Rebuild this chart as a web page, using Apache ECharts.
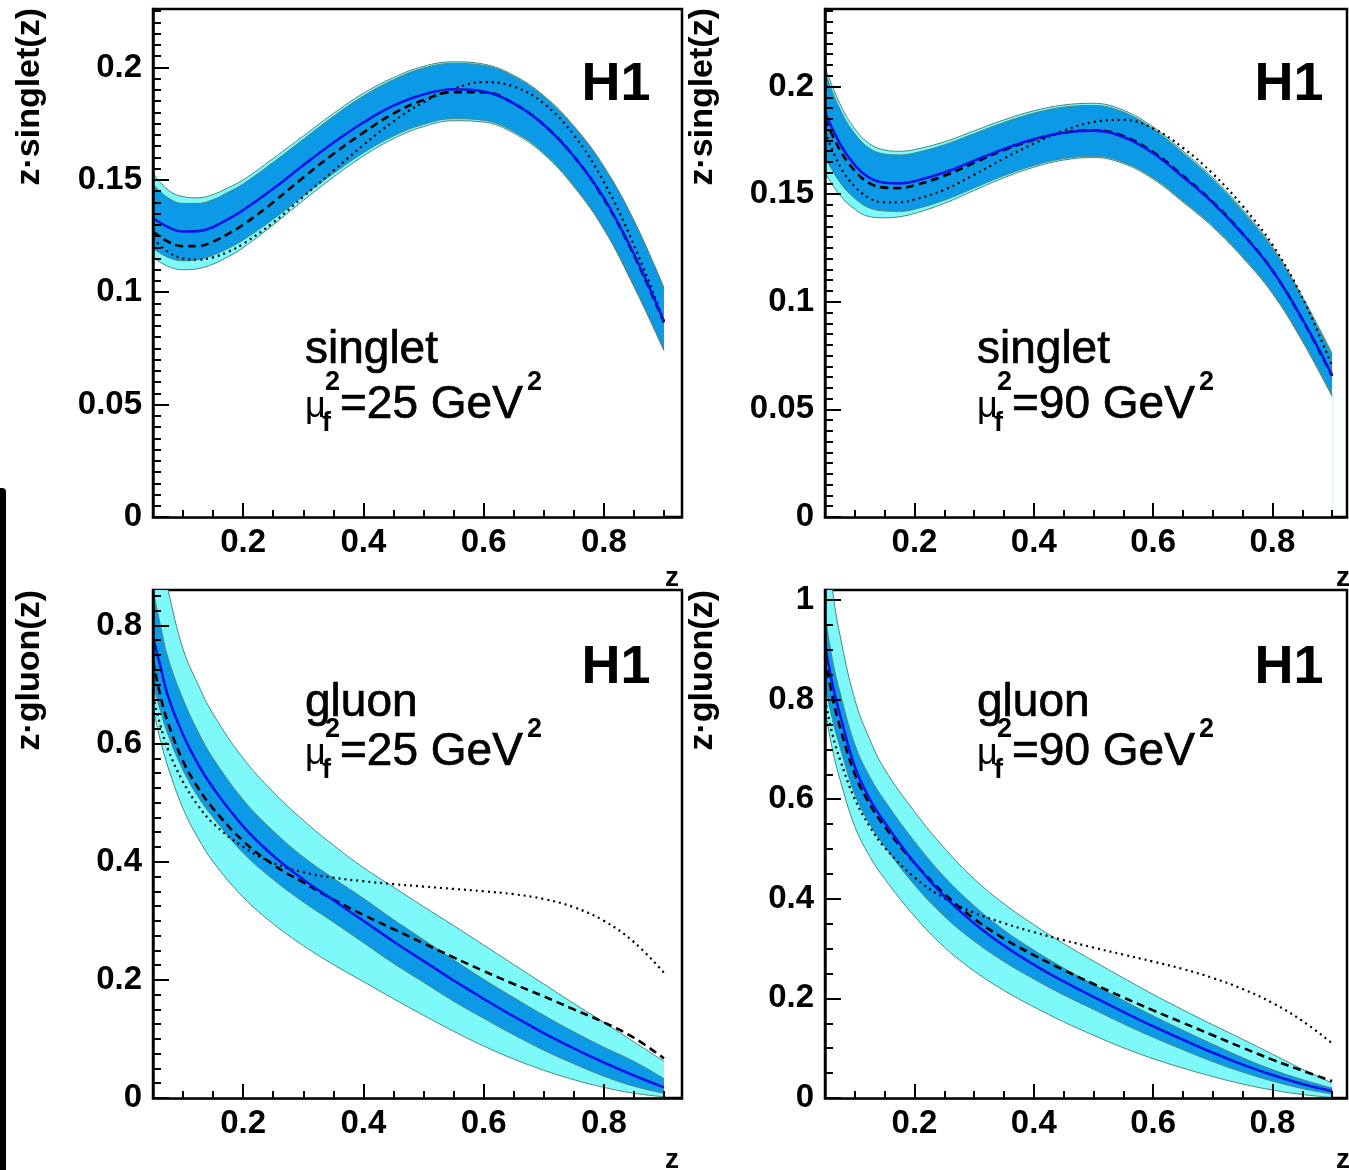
<!DOCTYPE html>
<html>
<head>
<meta charset="utf-8">
<script src="https://cdn.jsdelivr.net/npm/echarts@6/dist/echarts.min.js"></script>
<style>
  html, body { margin: 0; padding: 0; background: #ffffff; }
  #chart { width: 1349px; height: 1170px; }
</style>
</head>
<body>
<div id="chart"></div>
<script>
// ---- sampling points in z ----
const zSinglet = [0.05, 0.075, 0.10, 0.125, 0.15, 0.175, 0.20, 0.25, 0.30, 0.35, 0.40, 0.45, 0.50, 0.55, 0.60, 0.65, 0.70, 0.75, 0.80, 0.85, 0.90];
const zGluon   = [0.05, 0.0625, 0.075, 0.10, 0.125, 0.15, 0.20, 0.25, 0.30, 0.35, 0.40, 0.45, 0.50, 0.55, 0.60, 0.65, 0.70, 0.75, 0.80, 0.85, 0.90];

// ---- singlet, mu_f^2 = 25 GeV^2 ----
const s25Central = [0.1330, 0.1290, 0.1270, 0.1272, 0.1290, 0.1325, 0.1365, 0.1460, 0.1565, 0.1665, 0.1755, 0.1830, 0.1880, 0.1903, 0.1893, 0.1840, 0.1745, 0.1605, 0.1420, 0.1170, 0.0870];
const s25Dashed  = [0.1270, 0.1225, 0.1205, 0.1205, 0.1225, 0.1260, 0.1300, 0.1400, 0.1510, 0.1615, 0.1710, 0.1795, 0.1855, 0.1890, 0.1890, 0.1840, 0.1745, 0.1605, 0.1415, 0.1165, 0.0865];
const s25Dotted  = [0.1240, 0.1180, 0.1150, 0.1145, 0.1155, 0.1180, 0.1215, 0.1310, 0.1425, 0.1540, 0.1655, 0.1760, 0.1845, 0.1905, 0.1935, 0.1915, 0.1840, 0.1700, 0.1490, 0.1210, 0.0870];
const s25OuterHi = [0.1530, 0.1455, 0.1425, 0.1420, 0.1435, 0.1465, 0.1500, 0.1595, 0.1695, 0.1795, 0.1885, 0.1955, 0.2005, 0.2025, 0.2015, 0.1965, 0.1875, 0.1740, 0.1560, 0.1320, 0.1020];
const s25InnerHi = [0.1480, 0.1420, 0.1395, 0.1395, 0.1412, 0.1445, 0.1482, 0.1578, 0.1680, 0.1782, 0.1873, 0.1945, 0.1997, 0.2018, 0.2009, 0.1960, 0.1870, 0.1736, 0.1556, 0.1316, 0.1016];
const s25InnerLo = [0.1195, 0.1155, 0.1140, 0.1145, 0.1165, 0.1195, 0.1232, 0.1325, 0.1428, 0.1528, 0.1620, 0.1695, 0.1747, 0.1772, 0.1765, 0.1715, 0.1620, 0.1475, 0.1285, 0.1030, 0.0745];
const s25OuterLo = [0.1155, 0.1115, 0.1100, 0.1105, 0.1125, 0.1158, 0.1198, 0.1300, 0.1408, 0.1512, 0.1606, 0.1683, 0.1737, 0.1763, 0.1757, 0.1708, 0.1614, 0.1470, 0.1280, 0.1025, 0.0740];

// ---- singlet, mu_f^2 = 90 GeV^2 ----
const s90Central = [0.1880, 0.1735, 0.1635, 0.1575, 0.1553, 0.1550, 0.1560, 0.1600, 0.1655, 0.1710, 0.1755, 0.1785, 0.1795, 0.1765, 0.1690, 0.1580, 0.1460, 0.1315, 0.1145, 0.0920, 0.0660];
const s90Dashed  = [0.1850, 0.1705, 0.1608, 0.1550, 0.1530, 0.1528, 0.1540, 0.1585, 0.1645, 0.1705, 0.1752, 0.1785, 0.1797, 0.1770, 0.1695, 0.1585, 0.1463, 0.1317, 0.1145, 0.0918, 0.0655];
const s90Dotted  = [0.1790, 0.1630, 0.1535, 0.1480, 0.1462, 0.1462, 0.1475, 0.1520, 0.1590, 0.1665, 0.1735, 0.1795, 0.1835, 0.1845, 0.1805, 0.1715, 0.1595, 0.1445, 0.1265, 0.1020, 0.0700];
const s90OuterHi = [0.2090, 0.1920, 0.1803, 0.1733, 0.1705, 0.1699, 0.1707, 0.1743, 0.1794, 0.1845, 0.1887, 0.1914, 0.1922, 0.1890, 0.1812, 0.1700, 0.1577, 0.1429, 0.1256, 0.1025, 0.0760];
const s90InnerHi = [0.2065, 0.1895, 0.1780, 0.1712, 0.1686, 0.1682, 0.1691, 0.1729, 0.1781, 0.1833, 0.1876, 0.1904, 0.1912, 0.1881, 0.1803, 0.1691, 0.1568, 0.1420, 0.1247, 0.1016, 0.0751];
const s90InnerLo = [0.1672, 0.1555, 0.1480, 0.1435, 0.1422, 0.1420, 0.1430, 0.1472, 0.1529, 0.1586, 0.1633, 0.1665, 0.1676, 0.1648, 0.1576, 0.1469, 0.1353, 0.1211, 0.1044, 0.0823, 0.0568];
const s90OuterLo = [0.1600, 0.1495, 0.1430, 0.1395, 0.1390, 0.1395, 0.1410, 0.1457, 0.1517, 0.1576, 0.1625, 0.1658, 0.1670, 0.1642, 0.1570, 0.1463, 0.1347, 0.1205, 0.1038, 0.0817, 0.0560];

// ---- gluon, mu_f^2 = 25 GeV^2 ----
const g25Central = [0.780, 0.730, 0.680, 0.615, 0.565, 0.525, 0.460, 0.410, 0.370, 0.335, 0.300, 0.265, 0.232, 0.199, 0.168, 0.138, 0.110, 0.084, 0.060, 0.038, 0.018];
const g25Dashed  = [0.740, 0.680, 0.635, 0.570, 0.525, 0.490, 0.435, 0.395, 0.365, 0.336, 0.310, 0.286, 0.262, 0.238, 0.215, 0.193, 0.172, 0.150, 0.128, 0.102, 0.067];
const g25Dotted  = [0.680, 0.630, 0.590, 0.535, 0.495, 0.465, 0.425, 0.398, 0.382, 0.373, 0.367, 0.362, 0.358, 0.354, 0.350, 0.345, 0.337, 0.323, 0.300, 0.264, 0.212];
const g25OuterHi = [1.000, 0.920, 0.860, 0.760, 0.700, 0.650, 0.575, 0.518, 0.470, 0.428, 0.390, 0.357, 0.324, 0.292, 0.259, 0.226, 0.193, 0.160, 0.128, 0.095, 0.062];
const g25InnerHi = [0.860, 0.800, 0.745, 0.675, 0.620, 0.575, 0.505, 0.452, 0.408, 0.372, 0.338, 0.302, 0.268, 0.234, 0.201, 0.170, 0.140, 0.112, 0.086, 0.062, 0.033];
const g25InnerLo = [0.700, 0.655, 0.615, 0.555, 0.510, 0.475, 0.415, 0.370, 0.332, 0.298, 0.263, 0.228, 0.196, 0.164, 0.135, 0.107, 0.081, 0.058, 0.037, 0.020, 0.008];
const g25OuterLo = [0.660, 0.605, 0.560, 0.490, 0.440, 0.400, 0.340, 0.295, 0.258, 0.226, 0.197, 0.168, 0.140, 0.113, 0.088, 0.066, 0.047, 0.031, 0.018, 0.008, 0.002];

// ---- gluon, mu_f^2 = 90 GeV^2 ----
const g90Central = [0.910, 0.830, 0.770, 0.665, 0.600, 0.553, 0.472, 0.405, 0.351, 0.306, 0.268, 0.234, 0.203, 0.173, 0.144, 0.117, 0.091, 0.067, 0.046, 0.028, 0.014];
const g90Dashed  = [0.885, 0.805, 0.745, 0.650, 0.590, 0.545, 0.472, 0.410, 0.360, 0.320, 0.287, 0.257, 0.229, 0.202, 0.176, 0.151, 0.126, 0.101, 0.077, 0.055, 0.034];
const g90Dotted  = [0.800, 0.730, 0.680, 0.600, 0.545, 0.503, 0.443, 0.401, 0.372, 0.351, 0.333, 0.317, 0.302, 0.288, 0.274, 0.259, 0.241, 0.219, 0.191, 0.155, 0.110];
const g90OuterHi = [1.150, 1.020, 0.930, 0.800, 0.720, 0.660, 0.575, 0.502, 0.440, 0.390, 0.348, 0.310, 0.275, 0.241, 0.208, 0.177, 0.147, 0.118, 0.088, 0.058, 0.030];
const g90InnerHi = [0.970, 0.880, 0.815, 0.710, 0.645, 0.597, 0.515, 0.444, 0.386, 0.337, 0.297, 0.261, 0.228, 0.196, 0.165, 0.136, 0.108, 0.081, 0.057, 0.037, 0.020];
const g90InnerLo = [0.830, 0.760, 0.705, 0.610, 0.550, 0.505, 0.428, 0.365, 0.315, 0.274, 0.239, 0.207, 0.178, 0.149, 0.122, 0.097, 0.073, 0.052, 0.034, 0.019, 0.008];
const g90OuterLo = [0.780, 0.700, 0.640, 0.545, 0.485, 0.440, 0.365, 0.303, 0.255, 0.216, 0.183, 0.153, 0.126, 0.101, 0.079, 0.060, 0.043, 0.028, 0.016, 0.007, 0.001];

// ---- tick labels ----
const zTickLabels = [0.2, 0.4, 0.6, 0.8];
const singletTickLabels = [0, 0.05, 0.1, 0.15, 0.2];
const gluon25TickLabels = [0, 0.2, 0.4, 0.6, 0.8];
const gluon90TickLabels = [0, 0.2, 0.4, 0.6, 0.8, 1];

// ---- colours ----
const OUTER_FILL = '#7df9f9';
const INNER_FILL = '#0c9ae6';
const EDGE = '#4c857f';
const CENTRAL = '#1414e6';
const FONT = '"Liberation Sans", Arial, Helvetica, sans-serif';

function steps(from, to, step) {
  const out = [];
  const n = Math.floor((to - from) / step + 1e-6);
  for (let i = 0; i <= n; i++) out.push(Math.round((from + i * step) * 10000) / 10000);
  return out;
}
function without(list, remove) {
  return list.filter(v => !remove.some(r => Math.abs(r - v) < 1e-9));
}

// panel geometry (pixels) and axis ranges
const panels = [
  { left: 153, top: 9,   width: 529, height: 508, xMax: 0.93,  yMax: 0.226, yMajor: singletTickLabels, yMinorStep: 0.005,
    z: zSinglet, c: s25Central, d: s25Dashed, p: s25Dotted, oh: s25OuterHi, ih: s25InnerHi, il: s25InnerLo, ol: s25OuterLo },
  { left: 825, top: 9,   width: 522, height: 508, xMax: 0.925, yMax: 0.236, yMajor: singletTickLabels, yMinorStep: 0.005,
    z: zSinglet, c: s90Central, d: s90Dashed, p: s90Dotted, oh: s90OuterHi, ih: s90InnerHi, il: s90InnerLo, ol: s90OuterLo },
  { left: 153, top: 590, width: 529, height: 508, xMax: 0.93,  yMax: 0.86,  yMajor: gluon25TickLabels, yMinorStep: 0.025,
    z: zGluon, c: g25Central, d: g25Dashed, p: g25Dotted, oh: g25OuterHi, ih: g25InnerHi, il: g25InnerLo, ol: g25OuterLo },
  { left: 825, top: 590, width: 522, height: 508, xMax: 0.925, yMax: 1.02,  yMajor: gluon90TickLabels, yMinorStep: 0.05,
    z: zGluon, c: g90Central, d: g90Dashed, p: g90Dotted, oh: g90OuterHi, ih: g90InnerHi, il: g90InnerLo, ol: g90OuterLo }
];

const grid = [], xAxis = [], yAxis = [], series = [];

panels.forEach((P, g) => {
  grid.push({ left: P.left, top: P.top, width: P.width, height: P.height, show: true,
    borderColor: '#000', borderWidth: 2.5, backgroundColor: 'transparent', outerBoundsMode: 'none' });

  const xMinor = without(steps(0.1, 0.9, 0.05), zTickLabels);
  const yMinor = without(steps(0, P.yMax, P.yMinorStep), P.yMajor);
  const lbl = { fontFamily: FONT, fontWeight: 'bold', fontSize: 33, color: '#000' };

  // main axes: line, long ticks, labels
  xAxis.push({ gridIndex: g, type: 'value', position: 'bottom', min: 0.05, max: P.xMax, z: 10, splitLine: { show: false },
    axisLine: { onZero: false, lineStyle: { color: '#000', width: 2.5 } },
    axisTick: { inside: true, length: 14, lineStyle: { color: '#000', width: 2 }, customValues: zTickLabels },
    axisLabel: Object.assign({ customValues: zTickLabels, margin: 9 }, lbl) });
  // companion axes: short minor ticks only
  xAxis.push({ gridIndex: g, type: 'value', position: 'bottom', min: 0.05, max: P.xMax, z: 10, splitLine: { show: false },
    axisLine: { show: false, onZero: false }, axisLabel: { show: false },
    axisTick: { inside: true, length: 7, lineStyle: { color: '#000', width: 2 }, customValues: xMinor } });

  yAxis.push({ gridIndex: g, type: 'value', position: 'left', min: 0, max: P.yMax, z: 10, splitLine: { show: false },
    axisLine: { onZero: false, lineStyle: { color: '#000', width: 2.5 } },
    axisTick: { inside: true, length: 16, lineStyle: { color: '#000', width: 2 }, customValues: P.yMajor },
    axisLabel: Object.assign({ customValues: P.yMajor, margin: 11 }, lbl) });
  yAxis.push({ gridIndex: g, type: 'value', position: 'left', min: 0, max: P.yMax, z: 10, splitLine: { show: false },
    axisLine: { show: false, onZero: false }, axisLabel: { show: false },
    axisTick: { inside: true, length: 8, lineStyle: { color: '#000', width: 2 }, customValues: yMinor } });

  const ax = { xAxisIndex: 2 * g, yAxisIndex: 2 * g, symbol: 'none', smooth: 0.4, silent: true, animation: false };
  const pts = arr => P.z.map((x, i) => [x, arr[i]]);
  const hidden = { width: 0, opacity: 0 };

  // bands: each edge is filled down to the axis, layered so that the
  // strips between neighbouring edges keep their own colour
  [[P.oh, OUTER_FILL], [P.ih, INNER_FILL], [P.il, OUTER_FILL], [P.ol, '#ffffff']].forEach(([edge, fill]) => {
    series.push(Object.assign({ type: 'line', data: pts(edge), lineStyle: hidden,
      areaStyle: { color: fill, opacity: 1 }, z: 2 }, ax));
  });
  // band outlines
  [P.oh, P.ol, P.ih, P.il].forEach(edge => {
    series.push(Object.assign({ type: 'line', data: pts(edge), lineStyle: { color: EDGE, width: 1 }, z: 3 }, ax));
  });
  // dotted, dashed and central curves
  series.push(Object.assign({ type: 'line', data: pts(P.p), lineStyle: { color: '#000', width: 2.2, type: [2, 4] }, z: 4 }, ax));
  series.push(Object.assign({ type: 'line', data: pts(P.d), lineStyle: { color: '#000', width: 2.6, type: [8, 5] }, z: 4 }, ax));
  series.push(Object.assign({ type: 'line', data: pts(P.c), lineStyle: { color: CENTRAL, width: 2.6 }, z: 5 }, ax));
});

// ---- text annotations ----
function txt(x, y, text, size, opts) {
  opts = opts || {};
  return Object.assign({ type: 'text', x: x, y: y, silent: true, z: 20,
    style: Object.assign({ text: text, fill: '#000', font: (opts.weight || 'bold') + ' ' + size + 'px ' + FONT,
      align: 'left', verticalAlign: 'middle' }, opts.style) }, opts.el);
}
function yTitle(x, y, text) {
  return txt(x, y, text, 34, { el: { rotation: Math.PI / 2 }, style: { align: 'right' } });
}
const thick = { stroke: '#000', lineWidth: 0.7 };
function label(x, yName, yMu, name, scale) {
  return [
    txt(x, yName, name, 46, { weight: 'normal', style: thick }),
    txt(x, yMu + 2, 'μ', 36, { weight: 'normal' }),
    txt(x + 17, yMu + 19, 'f', 27, { weight: 'bold' }),
    txt(x + 20, yMu - 22, '2', 27, { weight: 'bold' }),
    txt(x + 35, yMu, '=' + scale + ' GeV', 46, { weight: 'normal', style: thick }),
    txt(x + 222, yMu - 22, '2', 27, { weight: 'bold' })
  ];
}

const graphics = [
  // dark edge strip at the left margin
  { type: 'rect', shape: { x: 0, y: 488, width: 6, height: 700, r: [0, 4, 0, 0] }, style: { fill: '#000' }, silent: true },
  yTitle(30, 8, 'z·singlet(z)'),
  yTitle(703, 8, 'z·singlet(z)'),
  yTitle(30, 590, 'z·gluon(z)'),
  yTitle(703, 590, 'z·gluon(z)'),
  txt(672, 578, 'z', 28, { style: { align: 'center' } }),
  txt(1343, 578, 'z', 28, { style: { align: 'center' } }),
  txt(672, 1160, 'z', 28, { style: { align: 'center' } }),
  txt(1343, 1160, 'z', 28, { style: { align: 'center' } }),
  txt(616, 85, 'H1', 54, { style: { align: 'center' } }),
  txt(1289, 85, 'H1', 54, { style: { align: 'center' } }),
  txt(616, 668, 'H1', 54, { style: { align: 'center' } }),
  txt(1289, 668, 'H1', 54, { style: { align: 'center' } })
].concat(
  label(305, 350, 405, 'singlet', '25'),
  label(977, 350, 405, 'singlet', '90'),
  label(305, 703, 752, 'gluon', '25'),
  label(977, 703, 752, 'gluon', '90')
);

const chart = echarts.init(document.getElementById('chart'), null, { renderer: 'canvas' });
chart.setOption({
  animation: false,
  backgroundColor: '#ffffff',
  grid: grid,
  xAxis: xAxis,
  yAxis: yAxis,
  series: series,
  graphic: graphics
});
</script>
</body>
</html>
